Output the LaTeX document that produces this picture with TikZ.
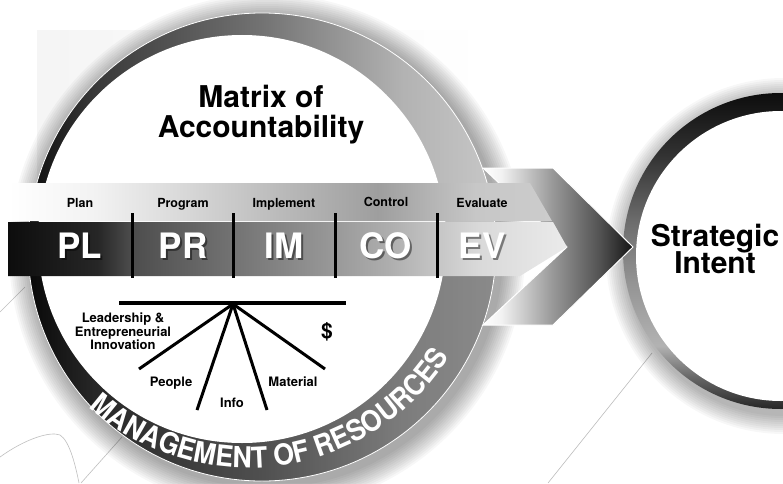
\documentclass[tikz,border=0pt]{standalone}
\usepackage{fontspec}
\setmainfont{TeX Gyre Heros}
\newfontfamily\ringfont{TeX Gyre Heros}[FakeStretch=0.92]
\usetikzlibrary{positioning,decorations.text}

\pgfdeclarehorizontalshading{ringshade}{100bp}{color(0bp)=(black!95); color(25bp)=(black!95); color(32bp)=(black!78); color(50bp)=(black!55); color(65bp)=(black!30); color(75bp)=(black!22); color(100bp)=(black!22)}
\pgfdeclareverticalshading{sringshade}{100bp}{color(0bp)=(black!85); color(25bp)=(black!85); color(30bp)=(black!60); color(35bp)=(black!30); color(45bp)=(black!42); color(55bp)=(black!58); color(65bp)=(black!80); color(75bp)=(black!95); color(100bp)=(black!95)}
\pgfdeclarehorizontalshading{topband}{100bp}{color(0bp)=(white); color(25bp)=(white); color(33bp)=(black!5); color(41bp)=(black!15); color(50bp)=(black!27); color(59bp)=(black!38); color(68bp)=(black!22); color(75bp)=(black!20); color(100bp)=(black!20)}
\pgfdeclarehorizontalshading{lowband}{100bp}{color(0bp)=(black!95); color(25bp)=(black!95); color(33bp)=(black!85); color(36bp)=(black!70); color(50bp)=(black!47); color(59bp)=(black!32); color(67bp)=(black!15); color(75bp)=(black!8); color(100bp)=(black!8)}
\pgfdeclarehorizontalshading{chevshade}{100bp}{color(0bp)=(white); color(25bp)=(white); color(31bp)=(black!5); color(48bp)=(black!40); color(64bp)=(black!68); color(75bp)=(black!92); color(100bp)=(black!92)}

\begin{document}
\begin{tikzpicture}[
  x=1pt, y=1pt,
  lab/.style={font=\bfseries\fontsize{12.5}{12}\selectfont, inner sep=0pt},
  code/.style={font=\bfseries\fontsize{35}{35}\selectfont, text=white, inner sep=0pt},
  title/.style={font=\bfseries\fontsize{30}{30}\selectfont, inner sep=0pt},
  res/.style={font=\bfseries\fontsize{13}{12}\selectfont, align=center, inner sep=0pt},
  spoke/.style={line width=3pt},
  divider/.style={line width=3pt},
  faint/.style={draw=black!25, line width=0.6pt}
]
\useasboundingbox (0,0) rectangle (783,483);
\fill[white] (0,0) rectangle (783,483);

% 背景
\shade[left color=black!4, right color=white] (37,200) rectangle (490,452);
\draw[faint] (0,171) -- (25,196);
\draw[faint] (0,26) .. controls (25,44) and (50,52) .. (60,48) .. controls (70,42) and (76,15) .. (79,0);
\draw[faint] (81,0) -- (122,46);
\draw[faint] (548,0) -- (652,130);

% 左の円
\coordinate (lc) at (262,236);
\foreach \d in {1,...,12} \fill[black, opacity=0.03] (267,231) circle ({234+2*\d});
\shade[shading=ringshade] (lc) circle (234);
\begin{scope}
  \clip (0,0) rectangle (783,207);
  \fill[black, opacity=0.3] (lc) circle (234);
\end{scope}
\draw[white, line width=0.8pt] (lc) circle (234);
\fill[white] (242,244) circle (204);

% 右の円
\coordinate (rc) at (781,232);
\foreach \d in {1,...,10} \fill[black, opacity=0.03] (784,227) circle ({158+2*\d});
\shade[shading=sringshade] (rc) circle (158);
\fill[white] (781,227) circle (145);

% 矢印
\shadedraw[shading=chevshade, draw=white, line width=1pt]
  (483,315) -- (553,315) -- (633,236) -- (553,158) -- (483,158) -- (567,236) -- cycle;

% 帯
\shade[shading=topband] (8,300) -- (530,300) -- (552,262) -- (8,262) -- cycle;
\shade[shading=lowband] (8,261) -- (553,261) -- (567,236) -- (520,207) -- (8,207) -- cycle;
\foreach \x in {132,233,335,437} \draw[divider] (\x,270) -- (\x,205);

\foreach \n/\x/\c/\l in {pl/80/PL/Plan, pr/183/PR/Program, im/284/IM/Implement,
                         co/386/CO/Control, ev/482/EV/Evaluate} {
  \node[code, text=black, opacity=0.45, anchor=base] (\n-s) at (\x+2,223) {\c};
  \node[code, anchor=base] (\n) at (\x,225) {\c};
  \node[lab, above=25pt of \n, anchor=base] (\n-l) {\l};
}

% 見出し
\node[title, anchor=base] (mtx) at (261,376) {Matrix of};
\node[title, anchor=base] (acc) at (261,346) {Accountability};
\node[title, anchor=base] (strat) at (715,237) {Strategic};
\node[title, anchor=base] (intent) at (715,210) {Intent};

% 資源
\coordinate (barl) at (119,180);
\coordinate (barr) at (346,180);
\coordinate (hub) at (233,179);
\coordinate (s1) at (139,114);
\coordinate (s2) at (197,73);
\coordinate (s3) at (267,73);
\coordinate (s4) at (325,114);
\draw[line width=4pt] (barl) -- (barr);
\foreach \s in {s1,s2,s3,s4} \draw[spoke] (hub) -- (\s);

\node[res, anchor=north] (lead) at (123,170) {Leadership \&\\Entrepreneurial\\Innovation};
\node[res, anchor=base] (people) at (171,97) {People};
\node[res, anchor=base] (info) at (232,76) {Info};
\node[res, anchor=base] (material) at (293,97) {Material};
\node[font=\bfseries\fontsize{21}{21}\selectfont, inner sep=0pt, anchor=base] (money) at (327,145) {\$};

% 円周の文字
\path[decorate, decoration={text along path, text align=center, text color=white,
    text={|\ringfont\bfseries\fontsize{29}{29}\selectfont|MANAGEMENT OF RESOURCES}}]
  ([shift={(200:238)}]248,253) arc[start angle=200, end angle=356, radius=238];

\end{tikzpicture}
\end{document}
